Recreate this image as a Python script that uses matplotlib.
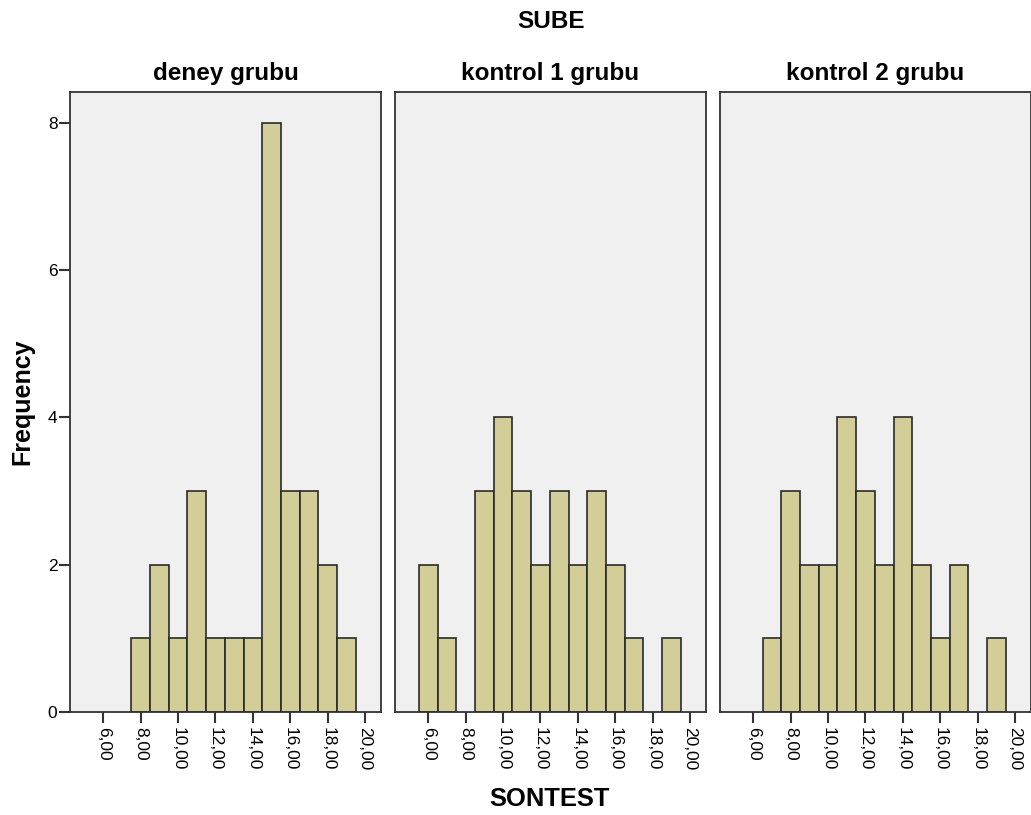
import matplotlib.pyplot as plt
import numpy as np

plt.rcParams['font.family'] = ['Liberation Sans', 'DejaVu Sans']

groups = ['deney grubu', 'kontrol 1 grubu', 'kontrol 2 grubu']
scores = [6, 7, 8, 9, 10, 11, 12, 13, 14, 15, 16, 17, 18, 19]
# frequency of each SONTEST score, one list per group
deney = [0, 0, 1, 2, 1, 3, 1, 1, 1, 8, 3, 3, 2, 1]
kontrol1 = [2, 1, 0, 3, 4, 3, 2, 3, 2, 3, 2, 1, 0, 1]
kontrol2 = [0, 1, 3, 2, 2, 4, 3, 2, 4, 2, 1, 2, 0, 1]
xticks = [6, 8, 10, 12, 14, 16, 18, 20]
xticklabels = ['6,00', '8,00', '10,00', '12,00', '14,00', '16,00', '18,00', '20,00']
yticks = [0, 2, 4, 6, 8]

counts = [deney, kontrol1, kontrol2]

W, H = 1031, 815
fig = plt.figure(figsize=(W / 100, H / 100), dpi=100)
lefts = [70, 395, 720]
for i, (name, c) in enumerate(zip(groups, counts)):
    ax = fig.add_axes([lefts[i] / W, 103 / H, 311 / W, 620 / H])
    ax.set_facecolor('#f0f0f0')
    x = np.array(scores)
    y = np.array(c)
    keep = y > 0  # empty bins draw nothing
    ax.bar(x[keep], y[keep], width=1, color='#d3ce97', edgecolor='#2a2a2a', linewidth=1.2)
    ax.set_xlim(4.22, 20.85)
    ax.set_ylim(0, 8.42)
    ax.set_xticks(xticks)
    ax.set_xticklabels(xticklabels, rotation=270, fontsize=12.5)
    ax.tick_params(axis='x', length=8, width=1.5, color='#333333', pad=3)
    if i == 0:
        ax.set_yticks(yticks)
        ax.tick_params(axis='y', length=8, width=1.5, color='#333333', labelsize=12.5, pad=1)
    else:
        ax.set_yticks([])
    for s in ax.spines.values():
        s.set_color('#333333')
        s.set_linewidth(1.3)
    ax.set_title(name, fontsize=17.5, fontweight='bold', pad=8.6)

fig.text(551 / W, 1 - 28 / H, 'SUBE', ha='center', va='baseline', fontsize=17.5, fontweight='bold')
fig.text(550 / W, 1 - 806 / H, 'SONTEST', ha='center', va='baseline', fontsize=18.4, fontweight='bold')
fig.text(29 / W, 1 - 402 / H, 'Frequency', ha='center', va='baseline', rotation=90,
         rotation_mode='anchor', fontsize=18, fontweight='bold')

fig.savefig('out.png', dpi=100)
